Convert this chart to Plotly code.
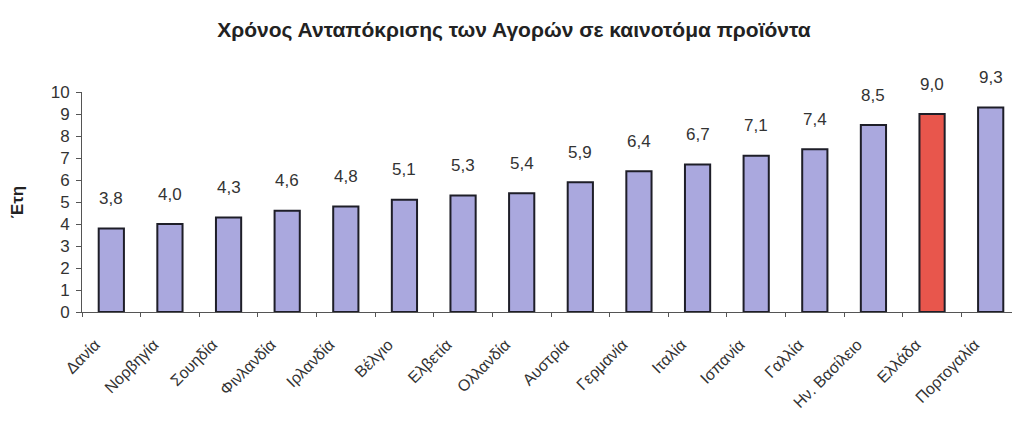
import plotly.graph_objects as go

countries = ["Δανία", "Νορβηγία", "Σουηδία", "Φινλανδία", "Ιρλανδία", "Βέλγιο",
             "Ελβετία", "Ολλανδία", "Αυστρία", "Γερμανία", "Ιταλία", "Ισπανία",
             "Γαλλία", "Ην. Βασίλειο", "Ελλάδα", "Πορτογαλία"]
years = [3.8, 4.0, 4.3, 4.6, 4.8, 5.1, 5.3, 5.4, 5.9, 6.4, 6.7, 7.1, 7.4, 8.5, 9.0, 9.3]
highlight = "Ελλάδα"

base_color = "#aaa8de"
hl_color = "#e8564c"
colors = [hl_color if c == highlight else base_color for c in countries]
labels = [f"{v:.1f}".replace(".", ",") for v in years]

fig = go.Figure(go.Bar(
    x=countries, y=years,
    marker=dict(color=colors, line=dict(color="#1e1e28", width=2)),
    cliponaxis=False,
))

for c, v, t in zip(countries, years, labels):
    fig.add_annotation(x=c, y=v, text=t, showarrow=False, yanchor="middle", yshift=30,
                       font=dict(family="Liberation Sans, Arial", size=17, color="#333333"))

W, H = 1012, 422
fig.update_layout(
    width=W, height=H,
    paper_bgcolor="white", plot_bgcolor="white",
    margin=dict(l=74, r=0, t=84, b=H - 84 - 220),
    bargap=0.57,
    showlegend=False,
    title=dict(text="<b>Χρόνος Ανταπόκρισης των Αγορών σε καινοτόμα προϊόντα</b>",
               x=0.5, xanchor="center", y=1 - 22 / H, yanchor="middle", automargin=False,
               font=dict(family="Liberation Sans, Arial", size=21, color="#222222")),
    font=dict(family="Liberation Sans, Arial", color="#333333"),
)

fig.update_yaxes(
    range=[0, 10], dtick=1, showgrid=False, zeroline=False, automargin=False,
    showline=True, linecolor="#555555", linewidth=1,
    ticks="outside", ticklen=5, tickcolor="#555555", ticklabelstandoff=3,
    tickfont=dict(size=17, color="#333333"),
    title=dict(text="<b>Έτη</b>", font=dict(size=17, color="#222222"), standoff=30),
)
fig.update_xaxes(
    showgrid=False, showline=True, linecolor="#555555", linewidth=1, automargin=False,
    ticks="outside", ticklen=4, tickcolor="#555555", tickson="boundaries",
    tickangle=-45, tickfont=dict(size=16, color="#333333"),
    ticklabelshift=-16, ticklabelstandoff=16,
)

fig.write_html("out.html")
